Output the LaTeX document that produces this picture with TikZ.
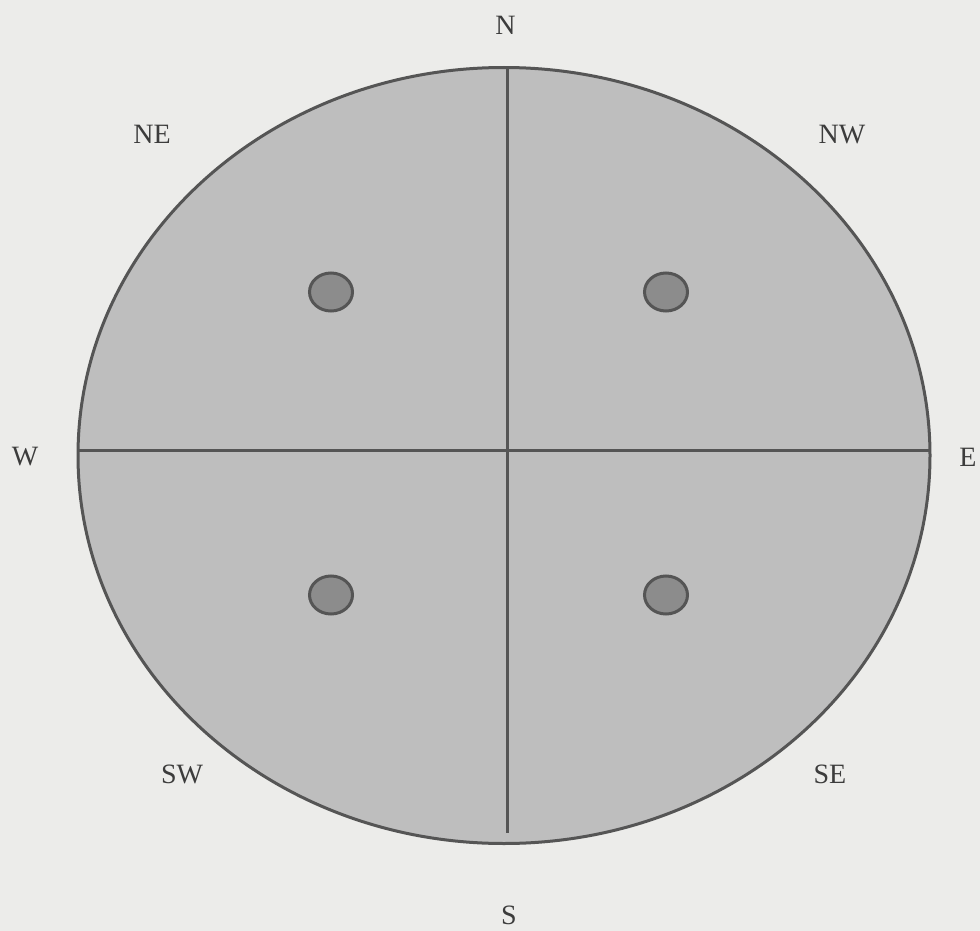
\documentclass[tikz,border=0pt]{standalone}
\usepackage{fontspec}
\setmainfont{Liberation Serif}
\definecolor{paper}{RGB}{236,236,234}
\definecolor{discfill}{RGB}{190,190,190}
\definecolor{ink}{RGB}{85,85,85}
\definecolor{dotfill}{RGB}{140,140,140}
\definecolor{txt}{RGB}{60,60,60}
\begin{document}
\begin{tikzpicture}[x=1pt,y=-1pt,
  lab/.style={anchor=base, font=\fontsize{28}{30}\selectfont, text=txt, inner sep=0pt},
  discline/.style={draw=ink, line width=3pt},
  spot/.style={draw=ink, fill=dotfill, line width=3pt}]
\fill[paper] (0,0) rectangle (980,931);
\useasboundingbox (0,0) rectangle (980,931);
% disc
\draw[discline, fill=discfill] (504,455.5) ellipse (426 and 388);
% quadrant lines
\coordinate (top) at (507,68);
\coordinate (bot) at (507,833);
\coordinate (lft) at (78,450);
\coordinate (rgt) at (930,450);
\draw[discline] (top) -- (bot);
\draw[discline] (lft) -- (rgt);
% dots
\draw[spot] (331,292) ellipse (21.5 and 19);
\draw[spot] (666,292) ellipse (21.5 and 19);
\draw[spot] (331,595) ellipse (21.5 and 19);
\draw[spot] (666,595) ellipse (21.5 and 19);
% labels
\node[lab] (n) at (505.5,35) {N};
\node[lab] (ne) at (152,143) {NE};
\node[lab] (nw) at (842,144) {NW};
\node[lab] (w) at (25,465) {W};
\node[lab] (e) at (968,466) {E};
\node[lab] (sw) at (182,783) {SW};
\node[lab] (se) at (830,783) {SE};
\node[lab] (s) at (509,924) {S};
\end{tikzpicture}
\end{document}
